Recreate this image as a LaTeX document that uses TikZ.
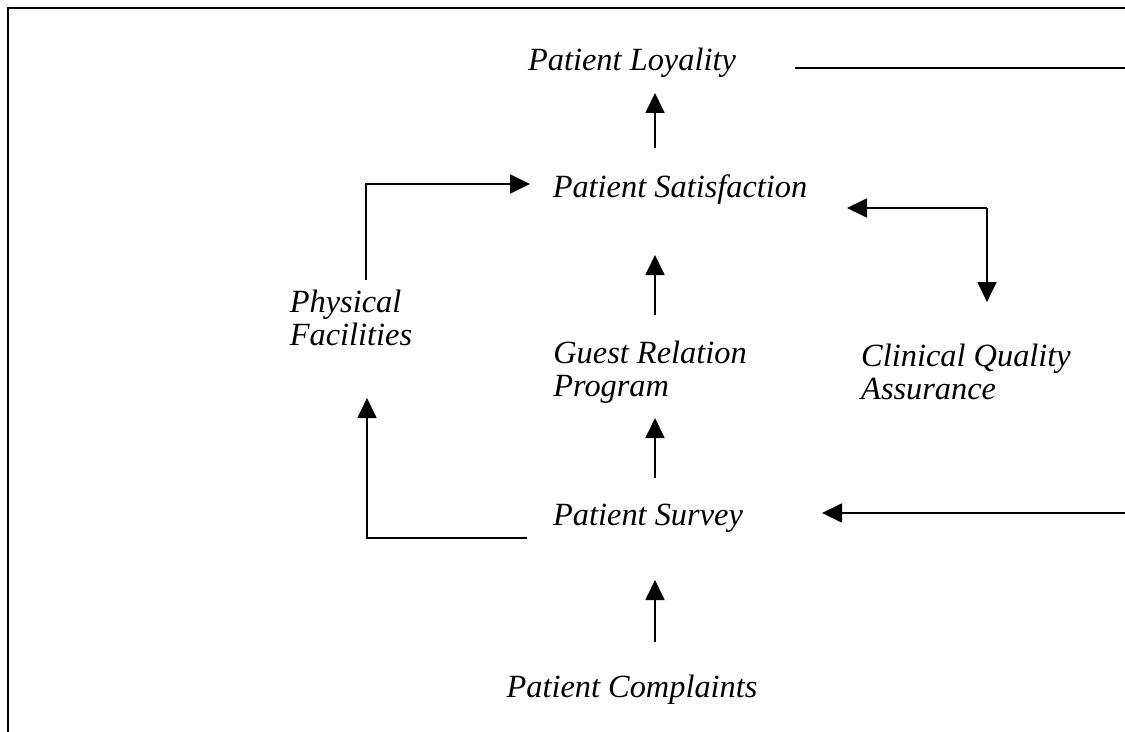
\documentclass[tikz,border=0pt]{standalone}
\usepackage{fontspec}
\setmainfont{Liberation Serif}
\usetikzlibrary{arrows.meta}
\begin{document}
\begin{tikzpicture}[x=1bp,y=-1bp,
  lbl/.style={font=\fontsize{32.5}{33}\selectfont\itshape, inner sep=0pt, align=left},
  ln/.style={line width=1.8bp},
  arr/.style={ln, -{Triangle[length=20bp,width=19bp]}}]
\useasboundingbox (0,0) rectangle (1125,732);
% frame
\draw[line width=1.3bp] (8,732) -- (8,8) -- (1125,8);
% labels
\node[lbl] (loy) at (632,63) {Patient Loyality};
\node[lbl] (sat) at (680,190) {Patient Satisfaction};
\node[lbl] (phys) at (351,318) {Physical\\Facilities};
\node[lbl] (guest) at (650,372) {Guest Relation\\Program};
\node[lbl] (clin) at (966,372) {Clinical Quality\\Assurance};
\node[lbl] (surv) at (648,518) {Patient Survey};
\node[lbl] (comp) at (632,690) {Patient Complaints};
% coordinates
\coordinate (a1s) at (655,148); \coordinate (a1e) at (655,93);
\coordinate (a2s) at (655,315); \coordinate (a2e) at (655,255);
\coordinate (a3s) at (655,478); \coordinate (a3e) at (655,418);
\coordinate (a4s) at (655,642); \coordinate (a4e) at (655,580);
\coordinate (loyR) at (795,68); \coordinate (edgeT) at (1125,68);
\coordinate (edgeB) at (1125,513); \coordinate (survR) at (822,513);
\coordinate (satR) at (847,208); \coordinate (clinT) at (987,302);
\coordinate (physT) at (366,280); \coordinate (satL) at (530,184);
\coordinate (survL) at (527,538); \coordinate (physB) at (367,398);
% connectors
\draw[arr] (a1s) -- (a1e);
\draw[arr] (a2s) -- (a2e);
\draw[arr] (a3s) -- (a3e);
\draw[arr] (a4s) -- (a4e);
\draw[ln] (loyR) -- (edgeT);
\draw[arr] (edgeB) -- (survR);
\draw[arr] (987,208) -- (satR);
\draw[arr] (987,208) -- (clinT);
\draw[arr] (physT) |- (satL);
\draw[arr] (survL) -| (physB);
\end{tikzpicture}
\end{document}
